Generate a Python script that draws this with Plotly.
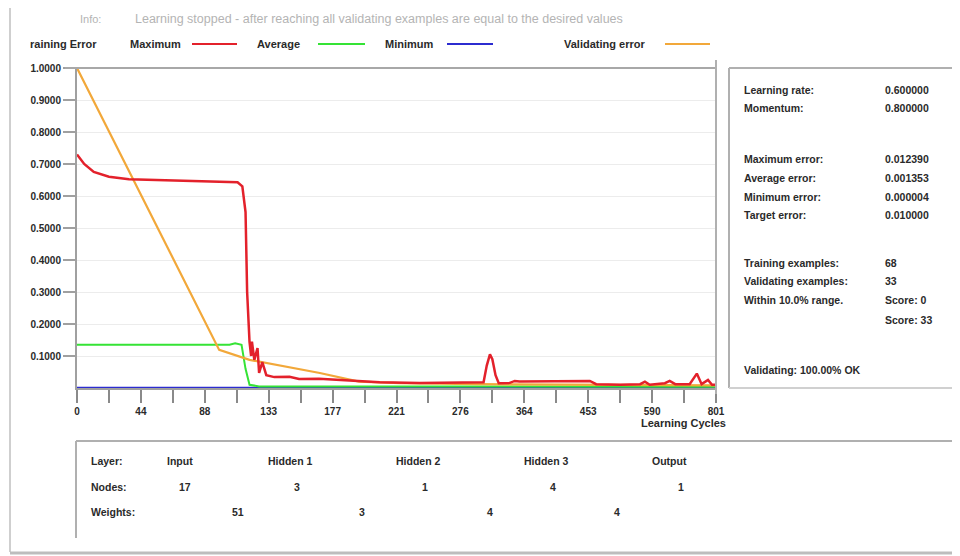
import plotly.graph_objects as go

# ---------------- data ----------------
# x positions are in axis units 0..800 (tick labels below are the ones printed on the chart)
tick_positions = [0, 40, 80, 120, 160, 200, 240, 280, 320, 360, 400, 440, 480, 520, 560, 600, 640, 680, 720, 760, 800]
tick_labels = ["0", "", "44", "", "88", "", "133", "", "177", "", "221", "", "276", "", "364", "", "453", "", "590", "", "801"]
y_ticks = [0.1, 0.2, 0.3, 0.4, 0.5, 0.6, 0.7, 0.8, 0.9, 1.0]
y_labels = ["0.1000", "0.2000", "0.3000", "0.4000", "0.5000", "0.6000", "0.7000", "0.8000", "0.9000", "1.0000"]

max_x = [0, 9, 21, 40, 65, 103, 153, 191, 201, 207, 211, 213, 216, 218, 219, 222, 226, 228, 232, 237, 247,
         266, 278, 303, 329, 354, 379, 429, 479, 509, 513, 517, 520, 524, 528, 542, 548, 554, 642, 650,
         680, 705, 711, 717, 736, 742, 749, 767, 776, 782, 790, 795, 800]
max_y = [0.73, 0.70, 0.675, 0.66, 0.652, 0.65, 0.647, 0.645, 0.643, 0.63, 0.55, 0.30, 0.144, 0.10, 0.145,
         0.088, 0.125, 0.047, 0.081, 0.040, 0.034, 0.035, 0.028, 0.029, 0.025, 0.020, 0.018, 0.016, 0.017,
         0.018, 0.07, 0.105, 0.09, 0.04, 0.015, 0.016, 0.022, 0.020, 0.022, 0.012, 0.010, 0.012, 0.020,
         0.010, 0.015, 0.022, 0.012, 0.012, 0.045, 0.012, 0.025, 0.010, 0.010]

avg_x = [0, 191, 198, 206, 211, 216, 228, 800]
avg_y = [0.135, 0.135, 0.14, 0.135, 0.06, 0.01, 0.005, 0.004]

min_x = [0, 800]
min_y = [0.001, 0.001]

val_x = [0, 178, 216, 304, 353, 404, 500, 600, 700, 800]
val_y = [1.0, 0.119, 0.088, 0.047, 0.020, 0.015, 0.012, 0.011, 0.010, 0.008]

panel_labels = ["Learning rate:", "Momentum:", "Maximum error:", "Average error:", "Minimum error:",
                "Target error:", "Training examples:", "Validating examples:", "Within 10.0% range."]
panel_values = ["0.600000", "0.800000", "0.012390", "0.001353", "0.000004", "0.010000", "68", "33", "Score: 0"]
panel_rows_y = [90, 108, 159, 178, 197, 215, 263, 281, 300]

layers = ["Input", "Hidden 1", "Hidden 2", "Hidden 3", "Output"]
nodes = ["17", "3", "1", "4", "1"]
weights = ["51", "3", "4", "4"]

# ---------------- geometry helpers ----------------
# the page body has an 8px margin, so the figure is drawn 8px in from the window corner
OFF = 8
W, H = 960 - OFF, 556 - OFF
PLOT_L, PLOT_R, PLOT_T, PLOT_B = 77, 716, 68, 388   # window coordinates of the plot area
L, T = PLOT_L - OFF, PLOT_T - OFF
R, B = W - (PLOT_R - OFF), H - (PLOT_B - OFF)
PW, PH = PLOT_R - PLOT_L, PLOT_B - PLOT_T


def px(x):
    return (x - PLOT_L) / PW


def py(y):
    return (PLOT_B - y) / PH


RED = "#e3212b"
GREEN = "#35e335"
BLUE = "#2c2cd0"
ORANGE = "#f2a83a"
TXT = "#2a2a2a"
FONT = "Liberation Sans"

fig = go.Figure()
fig.add_trace(go.Scatter(x=min_x, y=min_y, mode="lines", line=dict(color=BLUE, width=2), showlegend=False))
fig.add_trace(go.Scatter(x=avg_x, y=avg_y, mode="lines", line=dict(color=GREEN, width=2), showlegend=False))
fig.add_trace(go.Scatter(x=val_x, y=val_y, mode="lines", line=dict(color=ORANGE, width=2.2), showlegend=False))
fig.add_trace(go.Scatter(x=max_x, y=max_y, mode="lines", line=dict(color=RED, width=2.5), showlegend=False))

shapes = []


def hline(x0, x1, y, color, width):
    shapes.append(dict(type="line", xref="paper", yref="paper", x0=px(x0), x1=px(x1), y0=py(y), y1=py(y),
                       line=dict(color=color, width=width)))


def vline(x, y0, y1, color, width):
    shapes.append(dict(type="line", xref="paper", yref="paper", x0=px(x), x1=px(x), y0=py(y0), y1=py(y1),
                       line=dict(color=color, width=width)))


# outer frame
hline(10, 960, 4, "#d6d6d6", 2)
vline(10, 4, 552, "#cfcfcf", 2)
hline(10, 960, 553, "#bdbdbd", 3)
# chart borders
hline(65, 716, 68, "#a8a8a8", 2)
vline(716, 60, 394, "#b0b0b0", 2)
# right panel
hline(729, 956, 68, "#b0b0b0", 2)
vline(729, 68, 388, "#b0b0b0", 2)
hline(729, 956, 388, "#d0d0d0", 2)
# bottom panel
hline(76, 954, 441, "#b0b0b0", 2)
vline(76, 441, 538, "#b0b0b0", 2)
# legend lines
hline(192, 237, 44, RED, 2)
hline(318, 365, 44, GREEN, 2)
hline(447, 493, 44, BLUE, 2)
hline(665, 710, 44, ORANGE, 2)

ann = []


def text(x, y, s, anchor="left", size=11, color=TXT, bold=True):
    ann.append(dict(xref="paper", yref="paper", x=px(x), y=py(y), text=s, showarrow=False,
                    xanchor=anchor, yanchor="middle",
                    font=dict(family=FONT, size=size, color=color, weight="bold" if bold else "normal")))


# header (faint, partly cut)
text(78, 19, "Info:", size=11, color="#b4b4b4", bold=False)
text(133, 19, "Learning stopped - after reaching all validating examples are equal to the desired values",
     size=12.5, color="#b4b4b4", bold=False)
# legend
text(28, 44, "raining Error")
text(128, 44, "Maximum")
text(255, 44, "Average")
text(383, 44, "Minimum")
text(562, 44, "Validating error")
# x axis title
text(683, 423, "Learning Cycles", anchor="center")

# right panel
for lab, val, yy in zip(panel_labels, panel_values, panel_rows_y):
    text(742, yy, lab, size=10.5)
    text(883, yy, val, size=10.5)
text(883, 320, "Score: 33", size=10.5)
text(742, 370, "Validating: 100.00% OK", size=10.5)

# bottom panel
text(89, 461, "Layer:", size=10.5)
text(89, 487, "Nodes:", size=10.5)
text(89, 512, "Weights:", size=10.5)
layer_x = [180, 290, 418, 546, 669]
for lx, name in zip(layer_x, layers):
    text(lx, 461, name, anchor="center", size=10.5)
for nx, n in zip([185, 297, 425, 553, 681], nodes):
    text(nx, 487, n, anchor="center", size=10.5)
for wx, w in zip([238, 362, 490, 617], weights):
    text(wx, 512, w, anchor="center", size=10.5)

fig.update_layout(
    width=W, height=H,
    margin=dict(l=L, r=R, t=T, b=B),
    paper_bgcolor="white", plot_bgcolor="white",
    shapes=shapes, annotations=ann,
    xaxis=dict(range=[0, 800], tickmode="array", tickvals=tick_positions, ticktext=tick_labels,
               ticks="outside", ticklen=13, tickcolor="#8a8a8a", tickwidth=1.5,
               showgrid=False, zeroline=False, showline=True, linecolor="#a0a0a0", linewidth=2,
               tickfont=dict(family=FONT, size=10, color=TXT, weight="bold")),
    yaxis=dict(range=[0, 1.0], tickmode="array", tickvals=y_ticks, ticktext=y_labels,
               ticks="outside", ticklen=12, tickcolor="#a0a0a0", tickwidth=1.5,
               showgrid=True, gridcolor="#ececec", gridwidth=1, zeroline=False,
               showline=True, linecolor="#a0a0a0", linewidth=2,
               tickfont=dict(family=FONT, size=10, color=TXT, weight="bold")),
)

fig.write_html("out.html")
